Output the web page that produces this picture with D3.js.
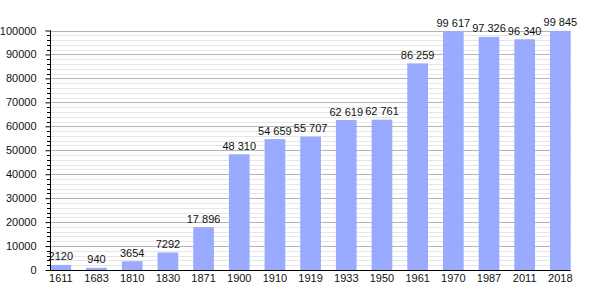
<!DOCTYPE html>
<html><head><meta charset="utf-8">
<script src="https://cdn.jsdelivr.net/npm/d3@7"></script>
<style>body{margin:0;background:#fff}svg{display:block}text{font-family:"Liberation Sans",Arial,sans-serif;font-size:11px;fill:#111}</style>
</head><body><svg id="c" width="600" height="300"></svg>
<script>
const years = ["1611","1683","1810","1830","1871","1900","1910","1919","1933","1950","1961","1970","1987","2011","2018"];
const population = [2120,940,3654,7292,17896,48310,54659,55707,62619,62761,86259,99617,97326,96340,99845];
const yTicks = [0,10000,20000,30000,40000,50000,60000,70000,80000,90000,100000];

const svg = d3.select("#c");
const x = d3.scaleBand().domain(years).range([50.5,570.7]).paddingInner(0.42).paddingOuter(0);
const y = d3.scaleLinear().domain([0,100000]).range([270,30.5]);
const minor = d3.range(0,100001,2000);

svg.append("g").selectAll("line").data(minor.filter(v=>v%10000)).join("line")
  .attr("x1",50).attr("x2",570.7).attr("y1",d=>Math.round(y(d))+0.5).attr("y2",d=>Math.round(y(d))+0.5)
  .attr("stroke","#e6e6e6");
svg.append("g").selectAll("line").data(yTicks.filter(v=>v>0)).join("line")
  .attr("x1",50).attr("x2",570.7).attr("y1",d=>Math.round(y(d))+0.5).attr("y2",d=>Math.round(y(d))+0.5)
  .attr("stroke","#b4b4b4");

svg.append("g").selectAll("rect").data(population).join("rect")
  .attr("x",(d,i)=>x(years[i])).attr("width",x.bandwidth())
  .attr("y",d=>y(d)).attr("height",d=>y(0)-y(d)).attr("fill","#99aaff");

const fmt = v => v>=10000 ? d3.format(",")(v).replace(/,/g," ") : String(v);
svg.append("g").selectAll("text").data(population).join("text")
  .attr("x",(d,i)=>x(years[i])+x.bandwidth()/2).attr("y",d=>y(d)-4.5)
  .attr("text-anchor","middle").text(fmt);

// y axis
const ya = d3.axisLeft(y).tickValues(yTicks).tickSize(5).tickPadding(9).tickFormat(d=>String(d));
const gy = svg.append("g").attr("transform","translate(50.5,0)").call(ya);
gy.select(".domain").attr("stroke","#000").attr("d","M0,30.5V270");
gy.selectAll("text").style("font-family","Liberation Sans, Arial, sans-serif").style("font-size","11px").attr("fill","#111");
gy.selectAll(".tick line").attr("stroke","#000");
svg.append("g").selectAll("line").data(minor.filter(v=>v%10000)).join("line")
  .attr("x1",47).attr("x2",50.5).attr("y1",d=>Math.round(y(d))+0.5).attr("y2",d=>Math.round(y(d))+0.5)
  .attr("stroke","#000");

// x axis
const xa = d3.axisBottom(x).tickSize(0).tickPadding(4);
const gx = svg.append("g").attr("transform","translate(0,270.5)").call(xa);
gx.select(".domain").attr("stroke","#000").attr("d","M50,0H570.7");
gx.selectAll("text").style("font-family","Liberation Sans, Arial, sans-serif").style("font-size","11px").attr("fill","#111");
</script></body></html>
